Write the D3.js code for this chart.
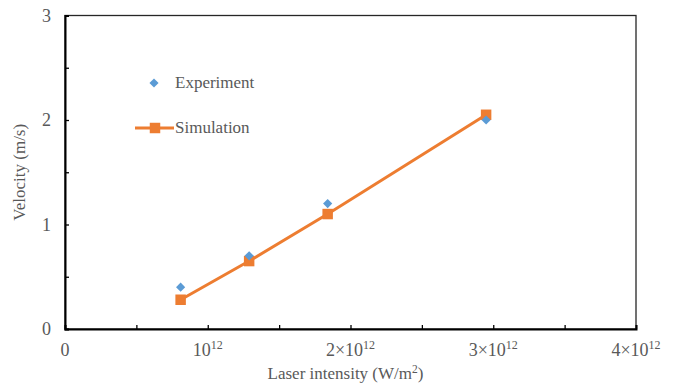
<!DOCTYPE html>
<html>
<head>
<meta charset="utf-8">
<script src="https://cdn.jsdelivr.net/npm/d3@7"></script>
<style>
  body { margin: 0; background: #fff; }
</style>
</head>
<body>
<div id="chart"></div>
<script>
// data
const expX = [0.81e12, 1.29e12, 1.84e12, 2.95e12];
const expY = [0.40, 0.70, 1.20, 2.00];
const simX = [0.81e12, 1.29e12, 1.84e12, 2.95e12];
const simY = [0.28, 0.65, 1.10, 2.05];
const xTicks = [0, 1e12, 2e12, 3e12, 4e12];
const xTickLabels = [['0', ''], ['10', '12'], ['2\u00d710', '12'], ['3\u00d710', '12'], ['4\u00d710', '12']];
const yTicks = [0, 1, 2, 3];

const width = 676, height = 387;
const margin = { top: 15.5, right: 40, bottom: 58, left: 65 };
const serif = 'Liberation Serif';
const grey = '#595959';
const orange = '#ED7D31', blue = '#5B9BD5';

const svg = d3.select('#chart')
  .append('svg')
  .attr('width', width)
  .attr('height', height)
  .attr('font-family', serif);

const x = d3.scaleLinear().domain([0, 4e12]).range([margin.left, width - margin.right]);
const y = d3.scaleLinear().domain([0, 3]).range([height - margin.bottom, margin.top]);

// all text first, so the serif face is the first one used
const xl = svg.append('g').selectAll('text').data(xTicks).enter().append('text')
  .attr('x', d => x(d)).attr('y', y(0) + 27)
  .attr('text-anchor', 'middle')
  .attr('font-family', serif).attr('fill', grey)
  .attr('font-size', 18);
xl.append('tspan').text((d, i) => xTickLabels[i][0]);
xl.append('tspan').attr('dy', -7).attr('font-size', 12).text((d, i) => xTickLabels[i][1]);

svg.append('g').selectAll('text').data(yTicks).enter().append('text')
  .attr('x', x(0) - 14).attr('y', d => y(d) + 6)
  .attr('text-anchor', 'end')
  .attr('font-family', serif).attr('fill', grey)
  .attr('font-size', 18)
  .text(d => d);

const xt = svg.append('text')
  .attr('x', (x(0) + x(4e12)) / 2 - 5).attr('y', 379)
  .attr('text-anchor', 'middle').attr('font-family', serif).attr('fill', grey)
  .attr('font-size', 17);
xt.append('tspan').text('Laser intensity (W/m');
xt.append('tspan').attr('dy', -6).attr('font-size', 11.5).text('2');
xt.append('tspan').attr('dy', 6).text(')');

svg.append('text')
  .attr('transform', `translate(25,${(y(0) + y(3)) / 2}) rotate(-90)`)
  .attr('text-anchor', 'middle').attr('font-family', serif).attr('fill', grey)
  .attr('font-size', 17)
  .text('Velocity (m/s)');

svg.append('text').attr('x', 175).attr('y', 88).attr('font-family', serif).attr('fill', grey)
  .attr('font-size', 17).text('Experiment');
svg.append('text').attr('x', 175).attr('y', 133).attr('font-family', serif).attr('fill', grey)
  .attr('font-size', 17).text('Simulation');

// frame (top + right thin)
svg.append('rect')
  .attr('x', x(0)).attr('y', y(3))
  .attr('width', x(4e12) - x(0)).attr('height', y(0) - y(3))
  .attr('fill', 'none').attr('stroke', '#262626').attr('stroke-width', 1.3);

// axes with inner ticks every 0.5 (no tick text)
const xAxis = d3.axisBottom(x).tickValues(d3.range(0, 4.01e12, 0.5e12)).tickSize(-4).tickFormat('');
const yAxis = d3.axisLeft(y).tickValues(d3.range(0, 3.01, 0.5)).tickSize(-4).tickFormat('');

svg.append('g').attr('transform', `translate(0,${y(0)})`).call(xAxis)
  .attr('font-family', null).attr('font-size', null)
  .call(g => g.selectAll('text').remove())
  .call(g => g.select('.domain').attr('stroke', '#000').attr('stroke-width', 2))
  .call(g => g.selectAll('.tick line').attr('stroke', '#000').attr('stroke-width', 1.3));
svg.append('g').attr('transform', `translate(${x(0)},0)`).call(yAxis)
  .attr('font-family', null).attr('font-size', null)
  .call(g => g.selectAll('text').remove())
  .call(g => g.select('.domain').attr('stroke', '#000').attr('stroke-width', 2))
  .call(g => g.selectAll('.tick line').attr('stroke', '#000').attr('stroke-width', 1.3));

// simulation line + squares
const simData = simX.map((d, i) => [d, simY[i]]);
svg.append('path')
  .datum(simData)
  .attr('d', d3.line().x(d => x(d[0])).y(d => y(d[1])))
  .attr('fill', 'none').attr('stroke', orange).attr('stroke-width', 3);
svg.append('g').selectAll('path').data(simData).enter().append('path')
  .attr('d', d3.symbol(d3.symbolSquare, 110))
  .attr('transform', d => `translate(${x(d[0])},${y(d[1])})`)
  .attr('fill', orange);

// experiment diamonds
const expData = expX.map((d, i) => [d, expY[i]]);
svg.append('g').selectAll('path').data(expData).enter().append('path')
  .attr('d', d3.symbol(d3.symbolSquare, 42))
  .attr('transform', d => `translate(${x(d[0])},${y(d[1])}) rotate(45)`)
  .attr('fill', blue);

// legend marks
const lg = svg.append('g');
lg.append('path').attr('d', d3.symbol(d3.symbolSquare, 42))
  .attr('transform', 'translate(154,83) rotate(45)').attr('fill', blue);
lg.append('line').attr('x1', 135).attr('x2', 174).attr('y1', 128).attr('y2', 128)
  .attr('stroke', orange).attr('stroke-width', 3);
lg.append('path').attr('d', d3.symbol(d3.symbolSquare, 110))
  .attr('transform', 'translate(155,128)').attr('fill', orange);
</script>
</body>
</html>
